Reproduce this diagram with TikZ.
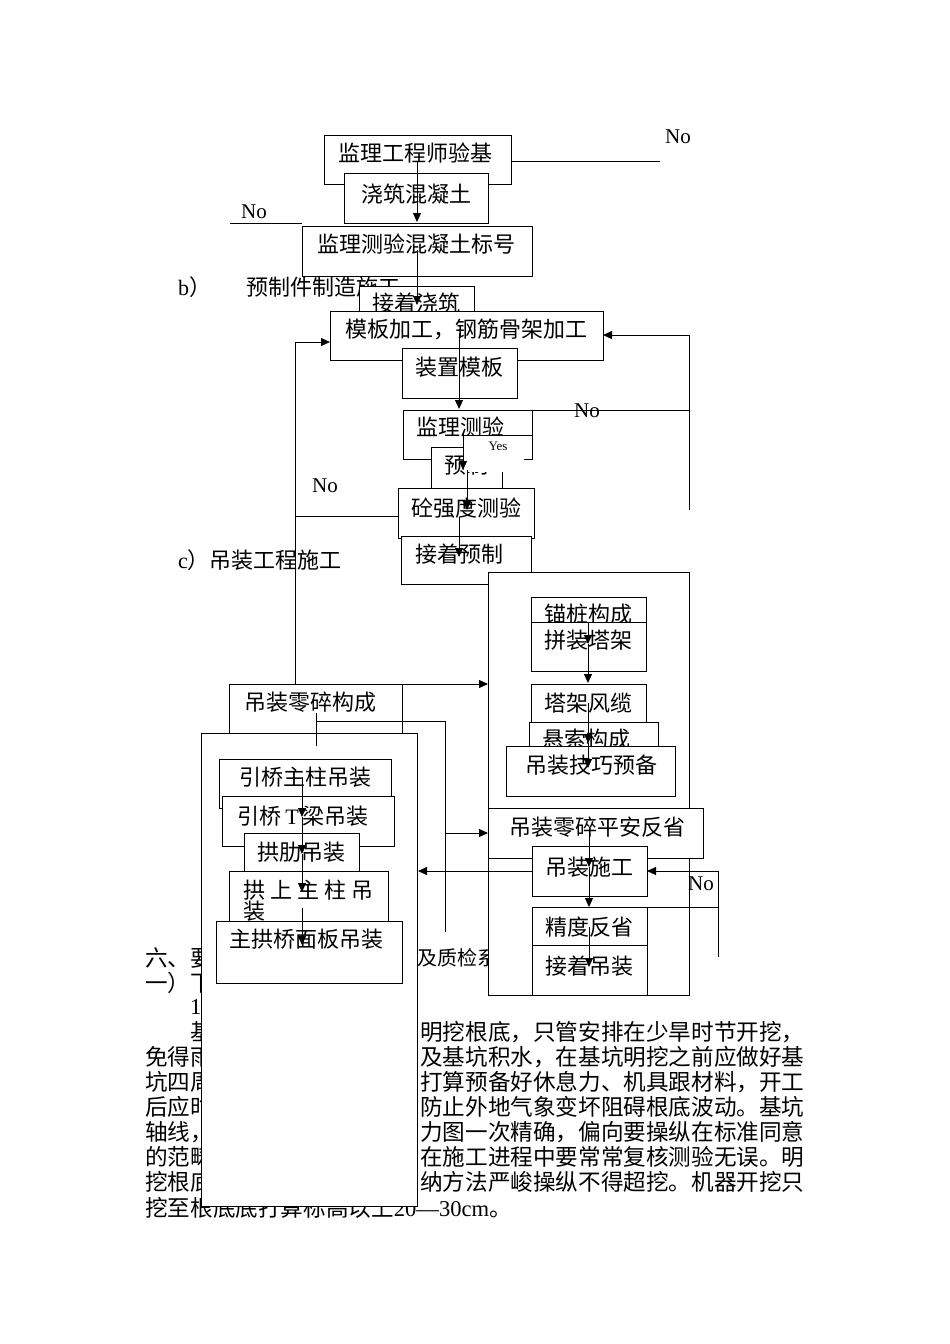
\documentclass[tikz,border=0pt]{standalone}
\usepackage{fontspec}
\setmainfont{Noto Sans CJK SC}
\newfontfamily\lat{Liberation Serif}
\usetikzlibrary{arrows.meta}
\newcommand\bx[5]{\node[box,anchor=north west,minimum width={#4pt-#2pt},minimum height={#5pt-#3pt}] (#1) at (#2,#3) {};}
\begin{document}
\begin{tikzpicture}[x=1pt,y=-1pt,
 box/.style={draw, fill=white, line width=1pt, inner sep=0pt, outer sep=0pt},
 txt/.style={inner sep=0pt, font=\fontsize{22}{24}\selectfont},
 body/.style={inner sep=0pt, anchor=west, font=\fontsize{22.6}{24}\selectfont},
 lbl/.style={inner sep=0pt, font=\lat\fontsize{21}{24}\selectfont},
 ln/.style={line width=1pt},
 arr/.style={line width=1pt, -{Triangle[length=9pt,width=8pt]}},
]
\useasboundingbox[fill=white] (0,0) rectangle (950,1344);

% ---------- body text (partly hidden by the boxes) ----------
\node[body] (p1l) at (145,958) {六、要求};
\node[body,font=\fontsize{20}{24}\selectfont] (p1r) at (417,958) {及质检系统};
\node[body] (p2l) at (145,983) {一）下部};
\node[body] (p3l) at (190,1008) {{\lat 1}、};
\node[body] (p4l) at (190,1032) {基坑};
\node[body] (p4r) at (420,1032) {明挖根底，只管安排在少旱时节开挖，};
\node[body] (p5l) at (145,1057) {免得雨水};
\node[body] (p5r) at (420,1057) {及基坑积水，在基坑明挖之前应做好基};
\node[body] (p6l) at (145,1082) {坑四周};
\node[body] (p6r) at (420,1082) {打算预备好休息力、机具跟材料，开工};
\node[body] (p7l) at (145,1107) {后应时};
\node[body] (p7r) at (420,1107) {防止外地气象变坏阻碍根底波动。基坑};
\node[body] (p8l) at (145,1132) {轴线，};
\node[body] (p8r) at (420,1132) {力图一次精确，偏向要操纵在标准同意};
\node[body] (p9l) at (145,1157) {的范畴};
\node[body] (p9r) at (420,1157) {在施工进程中要常常复核测验无误。明};
\node[body] (p10l) at (145,1182) {挖根底};
\node[body] (p10r) at (420,1182) {纳方法严峻操纵不得超挖。机器开挖只};
\node[body] (p11) at (145,1208) {挖至根底底打算标高以上{\lat 20—30cm}。};

% ---------- top ----------
\bx{b1}{324}{135}{511}{184}
\node[txt] (t1) at (415,153) {监理工程师验基};
\bx{b2}{344}{173}{488}{223}
\node[txt] (t2) at (416,194) {浇筑混凝土};
\coordinate (n1a) at (511,161); \coordinate (n1b) at (660,161);
\draw[ln] (n1a) -- (n1b);
\node[lbl] (no1) at (678,137) {No};
\node[lbl] (no2) at (254,212) {No};
\coordinate (n2a) at (230,223); \coordinate (n2b) at (302,223);
\draw[ln] (n2a) -- (n2b);
\bx{b3}{302}{226}{532}{276}
\node[txt] (t3) at (416,244) {监理测验混凝土标号};
\coordinate (a1s) at (417,162); \coordinate (a1e) at (417,222);
\draw[arr] (a1s) -- (a1e);

% ---------- b) ----------
\node[txt,anchor=west] (bl) at (178,287) {{\lat b}）};
\node[txt,anchor=west] (bt) at (246,287) {预制件制造施工};
\bx{b4}{359}{286}{474}{322}
\node[txt] (t4) at (416,303) {接着浇筑};
\coordinate (a2s) at (417,250); \coordinate (a2e) at (417,305);
\draw[arr] (a2s) -- (a2e);
\bx{b5}{330}{311}{603}{360}
\node[txt] (t5) at (466,329) {模板加工，钢筋骨架加工};
\bx{b6}{402}{348}{517}{398}
\node[txt] (t6) at (459,367) {装置模板};
\coordinate (a3s) at (459,333); \coordinate (a3e) at (459,409);
\draw[arr] (a3s) -- (a3e);

% left feedback
\coordinate (fl1) at (295,684); \coordinate (fl2) at (295,342); \coordinate (fl3) at (330,342);
\draw[arr] (fl1) -- (fl2) -- (fl3);
\coordinate (fl4) at (399,516); \coordinate (fl5) at (295,516);
\draw[ln] (fl4) -- (fl5);
\node[lbl] (no3) at (325,486) {No};
% right feedback
\coordinate (fr1) at (689,510); \coordinate (fr2) at (689,335); \coordinate (fr3) at (603,335);
\draw[arr] (fr1) -- (fr2) -- (fr3);
\coordinate (fr4) at (532,410); \coordinate (fr5) at (689,410);
\draw[ln] (fr4) -- (fr5);
\node[lbl] (no4) at (587,411) {No};

\bx{b7}{403}{410}{532}{459}
\node[txt] (t7) at (460,427) {监理测验};
\bx{b8}{431}{447}{502}{490}
\node[txt] (t8) at (466,465) {预制};
\node[fill=white,inner sep=0pt,anchor=north west,minimum width=60pt,minimum height=36pt] (yb) at (464,436) {};
\coordinate (y1) at (463,435); \coordinate (y2) at (532,435);
\draw[ln] (y1) -- (y2);
\node[inner sep=0pt,font=\lat\fontsize{13}{14}\selectfont] (yes) at (498,446) {Yes};
\bx{b9}{398}{488}{534}{538}
\node[txt] (t9) at (466,508) {砼强度测验};
\bx{b10}{401}{536}{531}{584}
\node[txt] (t10) at (459,554) {接着预制};
\coordinate (a4s) at (463,432); \coordinate (a4e) at (463,470);
\coordinate (a5s) at (467,470); \coordinate (a5e) at (467,510);
\coordinate (a6s) at (459,517); \coordinate (a6e) at (459,557);
\draw[arr] (a4s) -- (a4e);
\draw[arr] (a5s) -- (a5e);
\draw[arr] (a6s) -- (a6e);

% ---------- c) ----------
\node[txt,anchor=west] (cl) at (178,560) {{\lat c}）吊装工程施工};

% ---------- right big box ----------
\bx{B}{488}{572}{689}{995}
\bx{c1}{531}{597}{646}{630}
\node[txt] (u1) at (588,614) {锚桩构成};
\bx{c2}{531}{622}{646}{671}
\node[txt] (u2) at (588,640) {拼装塔架};
\coordinate (r1s) at (588,622); \coordinate (r1e) at (588,644);
\coordinate (r2e) at (588,683);
\draw[arr] (r1s) -- (r1e);
\draw[arr] (r1e) -- (r2e);
\bx{c3}{531}{684}{646}{730}
\node[txt] (u3) at (588,703) {塔架风缆};
\bx{c4}{529}{722}{658}{760}
\node[txt] (u4) at (586,739) {悬索构成};
\bx{c5}{506}{746}{675}{796}
\node[txt] (u5) at (591,765) {吊装技巧预备};
\coordinate (r3s) at (588,703); \coordinate (r3e) at (588,743); \coordinate (r4e) at (588,768);
\draw[arr] (r3s) -- (r3e);
\draw[arr] (r3e) -- (r4e);

\bx{c6}{488}{808}{703}{858}
\node[txt] (u6) at (597,827) {吊装零碎平安反省};
\bx{c7}{532}{846}{647}{896}
\node[txt] (u7) at (589,867) {吊装施工};
\bx{c8}{532}{907}{647}{945}
\node[txt] (u8) at (589,927) {精度反省};
\bx{c9}{532}{945}{647}{995}
\node[txt] (u9) at (589,966) {接着吊装};
\coordinate (r5s) at (589,827); \coordinate (r5e) at (589,867);
\coordinate (r6e) at (589,907);
\coordinate (r7s) at (589,927); \coordinate (r7e) at (589,967);
\draw[arr] (r5s) -- (r5e);
\draw[arr] (r5e) -- (r6e);
\draw[arr] (r7s) -- (r7e);
\coordinate (q1) at (718,957); \coordinate (q2) at (718,871); \coordinate (q3) at (647,871);
\draw[arr] (q1) -- (q2) -- (q3);
\coordinate (q4) at (647,907); \coordinate (q5) at (718,907);
\draw[ln] (q4) -- (q5);
\node[lbl] (no5) at (701,884) {No};

% ---------- left ----------
\bx{L0}{229}{684}{402}{735}
\node[txt] (v0) at (310,702) {吊装零碎构成};
\coordinate (k1) at (402,684); \coordinate (k2) at (488,684);
\draw[arr] (k1) -- (k2);
\coordinate (k3) at (316,721); \coordinate (k4) at (445,721); \coordinate (k5) at (445,932);
\draw[ln] (k3) -- (k4) -- (k5);
\coordinate (k6) at (445,833); \coordinate (k7) at (488,833);
\draw[arr] (k6) -- (k7);
\bx{L}{201}{733}{417}{1206}
\coordinate (k8) at (316,713); \coordinate (k9) at (316,746);
\draw[ln] (k8) -- (k9);
\bx{L1}{219}{759}{391}{808}
\node[txt] (v1) at (305,777) {引桥主柱吊装};
\bx{L2}{222}{796}{394}{846}
\node[txt] (v2) at (303,816) {引桥{\lat\,T\,}梁吊装};
\bx{L3}{244}{833}{359}{871}
\node[txt] (v3) at (301,852) {拱肋吊装};
\bx{L4}{229}{871}{388}{921}
\node[txt,anchor=west] (v4) at (243,890) {拱\hspace{5pt}上\hspace{5pt}主\hspace{5pt}柱\hspace{5pt}吊};
\node[txt,anchor=west] (v4b) at (243,911) {装};
\bx{L5}{216}{921}{402}{983}
\node[txt] (v5) at (306,939) {主拱桥面板吊装};
\coordinate (m1) at (302,777); \coordinate (m2) at (302,817);
\coordinate (m3) at (302,854); \coordinate (m4) at (302,892);
\coordinate (m5) at (302,908); \coordinate (m6) at (302,945);
\draw[arr] (m1) -- (m2);
\draw[arr] (m2) -- (m3);
\draw[arr] (m3) -- (m4);
\draw[arr] (m5) -- (m6);
\coordinate (h1) at (532,871); \coordinate (h2) at (418,871);
\draw[arr] (h1) -- (h2);
\end{tikzpicture}
\end{document}
